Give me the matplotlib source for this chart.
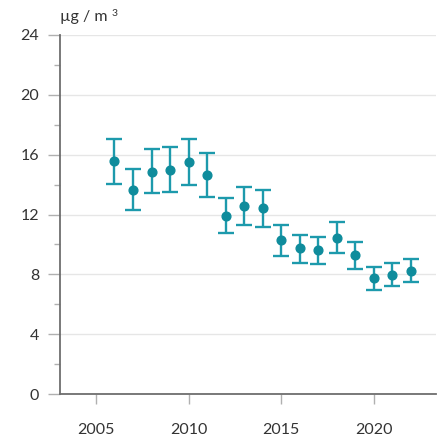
import matplotlib.pyplot as plt
from matplotlib.ticker import MultipleLocator

plt.rcParams['font.family'] = ['Lato', 'DejaVu Sans']

# annual mean concentration with upper / lower bounds
years = [2006, 2007, 2008, 2009, 2010, 2011, 2012, 2013, 2014,
         2015, 2016, 2017, 2018, 2019, 2020, 2021, 2022]
mean = [15.55, 13.64, 14.87, 15.0, 15.49, 14.63, 11.93, 12.58, 12.44,
        10.27, 9.73, 9.62, 10.44, 9.29, 7.76, 7.98, 8.24]
upper = [17.07, 15.02, 16.36, 16.49, 17.02, 16.09, 13.09, 13.82, 13.64,
         11.27, 10.64, 10.51, 11.51, 10.18, 8.49, 8.76, 9.04]
lower = [14.05, 12.33, 13.42, 13.51, 13.96, 13.18, 10.73, 11.31, 11.16,
         9.22, 8.76, 8.67, 9.44, 8.33, 6.98, 7.2, 7.47]

yerr = [[m - lo for m, lo in zip(mean, lower)],
        [hi - m for m, hi in zip(mean, upper)]]

fig = plt.figure(figsize=(4.42, 4.37), dpi=100)
ax = fig.add_axes([60 / 442, 1 - 394 / 437, 376 / 442, 359 / 437])

ax.errorbar(years, mean, yerr=yerr, fmt='o', color='#0f8c9c',
            ecolor='#1d9aac', elinewidth=1.7, capsize=6, capthick=1.7,
            markersize=6.3, zorder=3)

ax.set_xlim(2003.06, 2023.35)
ax.set_ylim(0, 24)
ax.set_xticks([2005, 2010, 2015, 2020])
ax.yaxis.set_major_locator(MultipleLocator(4))
ax.yaxis.set_minor_locator(MultipleLocator(2))
ax.grid(axis='y', which='major', color='#e6e6e6', linewidth=1)
ax.set_axisbelow(True)

for s in ('top', 'right'):
    ax.spines[s].set_visible(False)
for s in ('left', 'bottom'):
    ax.spines[s].set_color('#6e6e6e')
    ax.spines[s].set_linewidth(1.3)

ax.tick_params(axis='y', which='major', length=9, width=1, color='#b0b0b0',
               labelsize=11.5, labelcolor='#333333', pad=6)
ax.tick_params(axis='y', which='minor', length=4.5, width=1, color='#b0b0b0')
ax.tick_params(axis='x', length=7, width=1, color='#b0b0b0',
               labelsize=11.5, labelcolor='#333333', pad=14)

# unit label with raised exponent placed just after it
unit = fig.text(60 / 442, 1 - 17 / 437, 'µg / m', fontsize=11.5,
                color='#333333', va='center', ha='left')
ax.annotate('3', xy=(1, 1), xycoords=unit, xytext=(3, 1),
            textcoords='offset points', fontsize=7.5, color='#333333',
            va='top', ha='left', annotation_clip=False)

fig.savefig('out.png', dpi=100)
